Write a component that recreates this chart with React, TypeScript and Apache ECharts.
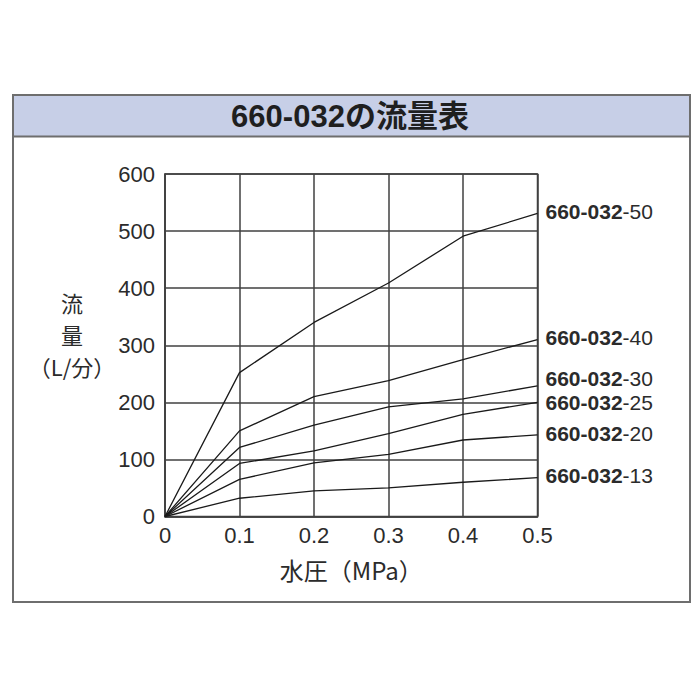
import React, { useEffect, useRef } from 'react';
import * as echarts from 'echarts';

// 水圧 (MPa)
const pressures = [0, 0.1, 0.2, 0.3, 0.4, 0.5];
// 流量 (L/分) per model
const models = ['50', '40', '30', '25', '20', '13'];
const flow50 = [0, 252, 340, 409, 491, 531];
const flow40 = [0, 150, 210, 238, 275, 310];
const flow30 = [0, 121, 160, 192, 206, 229];
const flow25 = [0, 93, 115, 145, 179, 200];
const flow20 = [0, 65, 94, 109, 134, 143];
const flow13 = [0, 32, 45, 50, 60, 68];
const flows = [flow50, flow40, flow30, flow25, flow20, flow13];
// small vertical nudges so end labels don't collide
const labelShift = [-2, -2, -7, 0, -1, -2];

const TXT = '#2b2b2b';
const FONT = '"Liberation Sans", Arial, "Noto Sans CJK JP", sans-serif';

const App = () => {
  const chartRef = useRef<HTMLDivElement>(null);

  useEffect(() => {
    if (!chartRef.current) return;
    const chart = echarts.init(chartRef.current, undefined, { renderer: 'svg' });

    const series = models.map((m, i) => ({
      type: 'line',
      name: '660-032-' + m,
      data: pressures.map((p, j) => [p, flows[i][j]]),
      symbol: 'none',
      lineStyle: { color: '#1a1a1a', width: 1.3 },
      endLabel: {
        show: true,
        distance: 8,
        offset: [0, labelShift[i]],
        formatter: () => '{b|660-032}{r|-' + m + '}',
        rich: {
          b: { fontFamily: FONT, fontSize: 21, fontWeight: 'bold', color: TXT },
          r: { fontFamily: FONT, fontSize: 21, color: TXT },
        },
      },
      z: 3,
    }));

    const option = {
      animation: false,
      textStyle: { fontFamily: FONT },
      grid: {
        left: 165,
        right: 162.5,
        top: 174,
        bottom: 183.5,
        show: true,
        borderColor: '#404040',
        borderWidth: 1.5,
        backgroundColor: 'transparent',
      },
      xAxis: {
        type: 'value',
        min: 0,
        max: 0.5,
        interval: 0.1,
        axisLine: { show: true, lineStyle: { color: '#404040', width: 1.5 } },
        axisTick: { show: false },
        splitLine: { show: true, lineStyle: { color: '#404040', width: 1.5 } },
        axisLabel: { color: TXT, fontSize: 22, margin: 8, fontFamily: FONT },
        name: '水圧（MPa）',
        nameLocation: 'middle',
        nameGap: 41,
        nameTextStyle: { color: TXT, fontSize: 24, fontFamily: '"Noto Sans CJK JP", sans-serif' },
      },
      yAxis: {
        type: 'value',
        min: 0,
        max: 600,
        interval: 100,
        axisLine: { show: true, lineStyle: { color: '#404040', width: 1.5 } },
        axisTick: { show: false },
        splitLine: { show: true, lineStyle: { color: '#404040', width: 1.5 } },
        axisLabel: { color: TXT, fontSize: 22, margin: 10, fontFamily: FONT },
      },
      graphic: [
        {
          type: 'rect',
          shape: { x: 13, y: 95, width: 677, height: 42 },
          style: { fill: '#c7cfe7', stroke: 'none' },
          z: 0,
        },
        {
          type: 'line',
          shape: { x1: 13, y1: 136.5, x2: 690, y2: 136.5 },
          style: { stroke: '#6e6e6e', lineWidth: 2 },
        },
        {
          type: 'rect',
          shape: { x: 13, y: 95, width: 677, height: 507 },
          style: { fill: 'none', stroke: '#6e6e6e', lineWidth: 2 },
        },
        {
          type: 'text',
          x: 350,
          y: 116,
          style: {
            text: '660-032の流量表',
            fontSize: 31,
            fontWeight: 'bold',
            fontFamily: FONT,
            fill: '#1f1f1f',
            align: 'center',
            verticalAlign: 'middle',
          },
        },
        {
          type: 'text',
          x: 72,
          y: 286,
          style: {
            text: '流\n量\n（L/分）',
            fontSize: 22,
            lineHeight: 32,
            fontFamily: '"Noto Sans CJK JP", sans-serif',
            fill: TXT,
            align: 'center',
            verticalAlign: 'top',
          },
        },
      ],
      series,
    };

    chart.setOption(option as any);
    return () => {
      chart.dispose();
    };
  }, []);

  return <div ref={chartRef} style={{ position: 'absolute', left: 0, top: 0, width: '700px', height: '700px', background: '#fff' }} />;
};

export default App;
